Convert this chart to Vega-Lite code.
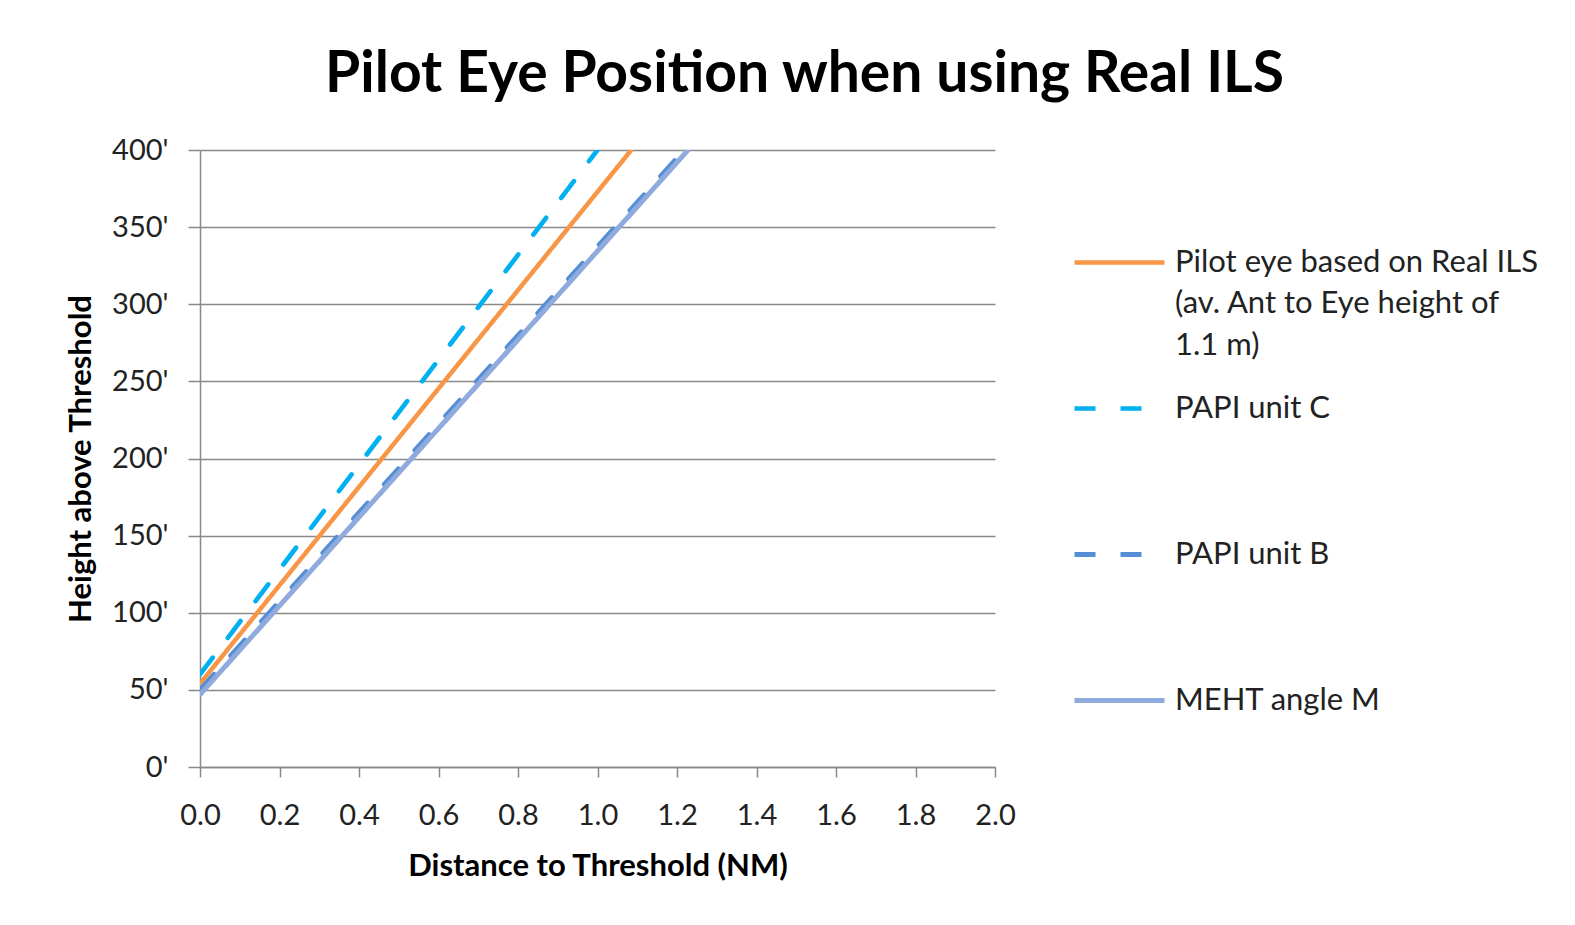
{
  "$schema": "https://vega.github.io/schema/vega-lite/v6.json",
  "width": 795,
  "height": 617,
  "autosize": {"type": "none"},
  "padding": {"left": 200, "top": 150, "right": 580, "bottom": 158},
  "background": "white",
  "title": {
    "text": "Pilot Eye Position when using Real ILS",
    "font": "Lato",
    "fontSize": 57,
    "fontWeight": "bold",
    "color": "black",
    "anchor": "middle",
    "dx": 207,
    "offset": 32
  },
  "data": {
    "values": [
      {"series": "Pilot eye based on Real ILS (av. Ant to Eye height of 1.1 m)", "distance": 0, "height": 54},
      {"series": "Pilot eye based on Real ILS (av. Ant to Eye height of 1.1 m)", "distance": 1.085, "height": 400},
      {"series": "PAPI unit C", "distance": 0, "height": 60},
      {"series": "PAPI unit C", "distance": 1.0, "height": 400},
      {"series": "PAPI unit B", "distance": 0, "height": 50},
      {"series": "PAPI unit B", "distance": 1.218, "height": 400},
      {"series": "MEHT angle M", "distance": 0, "height": 47},
      {"series": "MEHT angle M", "distance": 1.228, "height": 400}
    ]
  },
  "mark": {"type": "line", "strokeCap": "round", "clip": true},
  "encoding": {
    "x": {
      "field": "distance",
      "type": "quantitative",
      "scale": {"domain": [0, 2], "nice": false, "zero": false},
      "axis": {
        "title": "Distance to Threshold (NM)",
        "values": [0, 0.2, 0.4, 0.6, 0.8, 1.0, 1.2, 1.4, 1.6, 1.8, 2.0],
        "format": ".1f",
        "grid": false,
        "labelFlush": false,
        "domainColor": "#898989",
        "domainWidth": 1.5,
        "tickColor": "#898989",
        "tickWidth": 1.5,
        "tickSize": 10,
        "labelFont": "Lato",
        "labelFontSize": 29,
        "labelColor": "#222222",
        "labelPadding": 24,
        "titleFont": "Lato",
        "titleFontSize": 31,
        "titleFontWeight": "bold",
        "titleColor": "black",
        "titlePadding": 21
      }
    },
    "y": {
      "field": "height",
      "type": "quantitative",
      "scale": {"domain": [0, 400], "nice": false},
      "axis": {
        "title": "Height above Threshold",
        "values": [0, 50, 100, 150, 200, 250, 300, 350, 400],
        "labelExpr": "datum.value + \"'\"",
        "grid": true,
        "gridColor": "#898989",
        "gridWidth": 1.5,
        "domainColor": "#898989",
        "domainWidth": 1.5,
        "tickColor": "#898989",
        "tickWidth": 1.5,
        "tickSize": 12,
        "labelFont": "Lato",
        "labelFontSize": 29,
        "labelColor": "#222222",
        "labelPadding": 20,
        "titleFont": "Lato",
        "titleFontSize": 31,
        "titleFontWeight": "bold",
        "titleColor": "black",
        "titlePadding": 14
      }
    },
    "color": {
      "field": "series",
      "type": "nominal",
      "scale": {
        "domain": ["Pilot eye based on Real ILS (av. Ant to Eye height of 1.1 m)", "PAPI unit C", "PAPI unit B", "MEHT angle M"],
        "range": ["#F79646", "#00B0F0", "#558ED5", "#8FAADC"]
      },
      "legend": {
        "labelExpr": "datum.label == 'PAPI unit C' || datum.label == 'PAPI unit B' || datum.label == 'MEHT angle M' ? [datum.label, '', ''] : ['Pilot eye based on Real ILS', '(av. Ant to Eye height of', '1.1 m)']"
      }
    },
    "strokeDash": {
      "field": "series",
      "type": "nominal",
      "scale": {
        "domain": ["Pilot eye based on Real ILS (av. Ant to Eye height of 1.1 m)", "PAPI unit C", "PAPI unit B", "MEHT angle M"],
        "range": [[1, 0], [21, 25], [21, 25], [1, 0]]
      },
      "legend": {
        "labelExpr": "datum.label == 'PAPI unit C' || datum.label == 'PAPI unit B' || datum.label == 'MEHT angle M' ? [datum.label, '', ''] : ['Pilot eye based on Real ILS', '(av. Ant to Eye height of', '1.1 m)']"
      }
    },
    "strokeWidth": {
      "field": "series",
      "type": "nominal",
      "scale": {
        "domain": ["Pilot eye based on Real ILS (av. Ant to Eye height of 1.1 m)", "PAPI unit C", "PAPI unit B", "MEHT angle M"],
        "range": [4.5, 5, 5, 6]
      },
      "legend": {
        "labelExpr": "datum.label == 'PAPI unit C' || datum.label == 'PAPI unit B' || datum.label == 'MEHT angle M' ? [datum.label, '', ''] : ['Pilot eye based on Real ILS', '(av. Ant to Eye height of', '1.1 m)']"
      }
    }
  },
  "config": {
    "view": {"stroke": null},
    "style": {"guide-label": {"lineHeight": 41.5}},
    "legend": {
      "orient": "none",
      "legendX": 872,
      "legendY": 65,
      "title": null,
      "symbolType": "stroke",
      "symbolSize": 8100,
      "labelFont": "Lato",
      "labelFontSize": 31,
      "labelColor": "#222222",
      "labelLimit": 600,
      "labelOffset": 8,
      "rowPadding": 0
    }
  }
}
